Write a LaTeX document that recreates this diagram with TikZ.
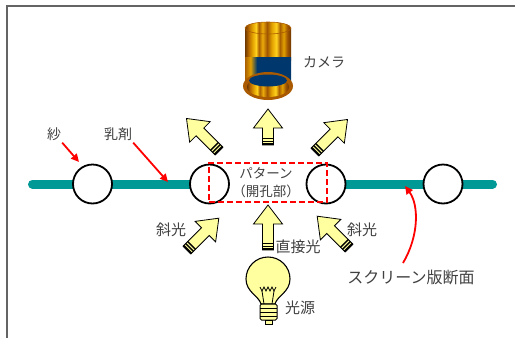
\documentclass[tikz,border=0pt]{standalone}
\usepackage{fontspec}
\newfontfamily\cjk{Noto Sans CJK JP}
\usetikzlibrary{arrows.meta,backgrounds}

\definecolor{screenteal}{RGB}{0,153,150}
\definecolor{beamfill}{RGB}{255,255,160}
\definecolor{labelgray}{RGB}{64,64,64}
\definecolor{framegray}{RGB}{100,100,100}
\definecolor{camblue}{RGB}{0,56,110}
\definecolor{camrim}{RGB}{170,90,0}
\definecolor{cgA}{RGB}{110,55,0}
\definecolor{cgB}{RGB}{185,105,0}
\definecolor{cgC}{RGB}{225,160,0}
\definecolor{cgD}{RGB}{255,210,30}
\definecolor{cgE}{RGB}{170,95,0}
\definecolor{cgF}{RGB}{235,170,10}
\definecolor{cgG}{RGB}{160,85,0}

% gold barrel of the camera, stripes running vertically
\pgfdeclarehorizontalshading{camgold}{100bp}{color(0bp)=(cgA); color(25bp)=(cgA);
  color(29bp)=(cgB); color(33bp)=(cgC); color(37bp)=(cgD); color(40bp)=(cgE);
  color(44bp)=(cgF); color(49bp)=(cgG); color(54bp)=(cgC); color(59bp)=(cgD);
  color(63bp)=(cgE); color(67bp)=(cgC); color(71bp)=(cgG); color(75bp)=(cgA);
  color(100bp)=(cgA)}
\pgfdeclarehorizontalshading{camband}{100bp}{color(0bp)=(cgE); color(25bp)=(cgE);
  color(31bp)=(cgC); color(38bp)=(camblue); color(100bp)=(camblue)}

\begin{document}
\begin{tikzpicture}[x=1pt,y=-1pt,
  lbl/.style={font=\cjk\fontsize{14}{16}\selectfont, text=labelgray, inner sep=0pt},
  lblbig/.style={lbl, font=\cjk\fontsize{16}{18}\selectfont},
  hole/.style={circle, draw=black, line width=1.8pt, fill=white, minimum size=39pt, inner sep=0pt},
  mesh/.style={line width=9pt, line cap=round, draw=screenteal},
  callout/.style={draw=red, line width=1.8pt, -{Triangle[length=8pt,width=7.5pt]}},
  openbox/.style={draw=red, dash pattern=on 6pt off 3pt, line width=1.8pt},
  pics/barrow/.style={code={
    \path[draw=black, line width=0.8pt, fill=beamfill, line join=miter]
      (-5.5,0) -- (-5.5,{19-#1}) -- (-14.5,{19-#1}) -- (0,-#1)
      -- (14.5,{19-#1}) -- (5.5,{19-#1}) -- (5.5,0) -- cycle;
    \fill[black] (-5.5,0.4) rectangle (5.5,-1.6);
    \fill[black] (-5.5,-3.0) rectangle (5.5,-4.4);
    \fill[black] (-5.5,-5.8) rectangle (5.5,-7.2);
  }}
]
\useasboundingbox (0,0) rectangle (515,338);

% frame edges
\draw[framegray, line width=2pt] (515,5.5) -- (6.5,5.5) -- (6.5,338);

% screen cross-section: openings in the emulsion
\node[hole] (h1) at (92.5,184) {};
\node[hole] (h2) at (209.5,184) {};
\node[hole] (h3) at (326,184) {};
\node[hole] (h4) at (443,184) {};
\coordinate (meshL) at (32.5,184);
\coordinate (meshR) at (492.5,184);
\begin{scope}[on background layer]
  \draw[mesh] (meshL) -- (h1.center);
  \draw[mesh] (h1.center) -- (h2.center);
  \draw[mesh] (h3.center) -- (h4.center);
  \draw[mesh] (h4.center) -- (meshR);
\end{scope}

% pattern (aperture) region
\node[openbox, minimum width=118pt, minimum height=39pt, inner sep=0pt] (open) at (267.75,182.5) {};
\node[lbl, font=\cjk\fontsize{13.5}{15}\selectfont] (pat1) at (266,173) {パターン};
\node[lbl, font=\cjk\fontsize{13.5}{15}\selectfont] (pat2) at (266,191) {（開孔部）};

% camera
\shade[shading=camgold] (245,28) rectangle (291,60);
\shade[shading=camband] (245,57) rectangle (291,80);
\shade[shading=camgold, draw=camrim, line width=0.6pt] (268,28) ellipse (23 and 6);
\fill[camrim] (268,86) ellipse (25 and 14);
\shade[shading=camgold] (268,87) ellipse (21 and 10);
\fill[camblue] (268,80.5) ellipse (19 and 6);
\node[lbl] (cam) at (324,62) {カメラ};

% light beams
\pic (bt) at (268,145) {barrow=36};
\pic[rotate=45] (btl) at (219,151) {barrow=46};
\pic[rotate=-45] (btr) at (315,152) {barrow=46};
\pic (bb) at (268,250) {barrow=45};
\pic[rotate=-45] (bbl) at (187,250) {barrow=45};
\pic[rotate=45] (bbr) at (349,248) {barrow=45};
\node[lbl, font=\cjk\fontsize{15}{17}\selectfont] (obl) at (171,230) {斜光};
\node[lbl, font=\cjk\fontsize{15}{17}\selectfont] (obr) at (362,230) {斜光};
\node[lbl, font=\cjk\fontsize{15}{17}\selectfont] (dir) at (298,247) {直接光};

% light bulb
\path[draw=black, line width=1.1pt, fill=beamfill]
  (261,304) .. controls (259,296) and (246,292) .. (246,279)
  arc (180:360:22) .. controls (290,292) and (277,296) .. (275,304) -- cycle;
\draw[black, line width=0.8pt] (260,287) -- (262,291) -- (264,287) -- (266,291) -- (268,287)
  -- (270,291) -- (272,287) -- (274,291) -- (276,287);
\draw[black, line width=0.8pt] (262,291) -- (264,304) (274,291) -- (272,304);
\path[draw=black, line width=1pt, fill=beamfill, rounded corners=1.5pt]
  (260,304) rectangle (277,320);
\draw[black, line width=0.8pt] (260,308) -- (277,308) (260,312) -- (277,312) (260,316) -- (277,316);
\path[draw=black, line width=1pt, fill=beamfill] (265,320) rectangle (272,324);
\node[lbl, font=\cjk\fontsize{15}{17}\selectfont] (src) at (300,308) {光源};

% callouts
\node[lbl] (gauze) at (54,134) {紗};
\node[lbl] (emul) at (118,134) {乳剤};
\node[lblbig] (scr) at (411,277) {スクリーン版断面};
\coordinate (gauzetip) at (79,162);
\coordinate (emultip) at (168,182);
\coordinate (scrtail) at (403,263);
\coordinate (scrtip) at (405,186);
\draw[callout] (gauze.south east) ++(1,2) -- (gauzetip);
\draw[callout] (emul.south east) ++(1,2) -- (emultip);
\draw[callout] (scrtail) .. controls (419,236) and (419,205) .. (scrtip);
\end{tikzpicture}
\end{document}
